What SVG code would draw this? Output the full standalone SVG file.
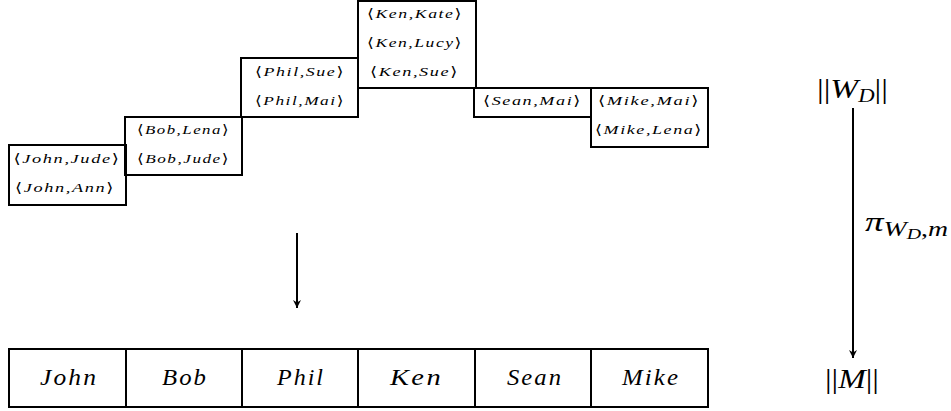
<svg xmlns="http://www.w3.org/2000/svg" width="951" height="411" viewBox="0 0 951 411">
<style>
.box{fill:none;stroke:#000;stroke-width:2}
.t{font-size:13.5px;font-style:italic;text-anchor:middle;fill:#000;letter-spacing:1.2px}
.b{font-style:normal}
.n{font-size:24px;font-style:italic;text-anchor:middle;fill:#000;letter-spacing:2px}
.m{font-size:28px;fill:#000}
.i{font-style:italic}
.conn{stroke:#000;stroke-width:2;fill:none}
</style>
<defs>
<marker id="ah" viewBox="0 0 10 10" refX="10" refY="5" markerWidth="4" markerHeight="4" orient="auto" markerUnits="strokeWidth">
<path d="M0,0 L10,5 L0,10 L3,5 z" fill="#000"/>
</marker>
</defs>
<rect width="951" height="411" fill="#fff"/>
<g font-family="'Liberation Serif','DejaVu Serif',serif">
<g id="box-john">
<rect class="box" x="9" y="145" width="117" height="60"/>
<text class="t" x="67" y="163" textLength="107" lengthAdjust="spacingAndGlyphs"><tspan class="b">⟨</tspan>John,Jude<tspan class="b">⟩</tspan></text>
<text class="t" x="65" y="192" textLength="100" lengthAdjust="spacingAndGlyphs"><tspan class="b">⟨</tspan>John,Ann<tspan class="b">⟩</tspan></text>
</g>
<g id="box-bob">
<rect class="box" x="125" y="117" width="117" height="58"/>
<text class="t" x="183.5" y="134" textLength="93" lengthAdjust="spacingAndGlyphs"><tspan class="b">⟨</tspan>Bob,Lena<tspan class="b">⟩</tspan></text>
<text class="t" x="183.5" y="163" textLength="93" lengthAdjust="spacingAndGlyphs"><tspan class="b">⟨</tspan>Bob,Jude<tspan class="b">⟩</tspan></text>
</g>
<g id="box-phil">
<rect class="box" x="241" y="58" width="117" height="59"/>
<text class="t" x="300" y="76" textLength="90" lengthAdjust="spacingAndGlyphs"><tspan class="b">⟨</tspan>Phil,Sue<tspan class="b">⟩</tspan></text>
<text class="t" x="300" y="105" textLength="90" lengthAdjust="spacingAndGlyphs"><tspan class="b">⟨</tspan>Phil,Mai<tspan class="b">⟩</tspan></text>
</g>
<g id="box-ken">
<rect class="box" x="358" y="1" width="118" height="87"/>
<text class="t" x="415" y="18" textLength="96" lengthAdjust="spacingAndGlyphs"><tspan class="b">⟨</tspan>Ken,Kate<tspan class="b">⟩</tspan></text>
<text class="t" x="415" y="47" textLength="96" lengthAdjust="spacingAndGlyphs"><tspan class="b">⟨</tspan>Ken,Lucy<tspan class="b">⟩</tspan></text>
<text class="t" x="414.5" y="76" textLength="89" lengthAdjust="spacingAndGlyphs"><tspan class="b">⟨</tspan>Ken,Sue<tspan class="b">⟩</tspan></text>
</g>
<g id="box-sean">
<rect class="box" x="474" y="88" width="117" height="29"/>
<text class="t" x="532.5" y="105" textLength="99" lengthAdjust="spacingAndGlyphs"><tspan class="b">⟨</tspan>Sean,Mai<tspan class="b">⟩</tspan></text>
</g>
<g id="box-mike">
<rect class="box" x="591" y="88" width="117" height="59"/>
<text class="t" x="649" y="105" textLength="102" lengthAdjust="spacingAndGlyphs"><tspan class="b">⟨</tspan>Mike,Mai<tspan class="b">⟩</tspan></text>
<text class="t" x="649" y="134" textLength="108" lengthAdjust="spacingAndGlyphs"><tspan class="b">⟨</tspan>Mike,Lena<tspan class="b">⟩</tspan></text>
</g>

<g id="row-m">
<rect class="box" x="9" y="349" width="699" height="58" stroke-width="2.5"/>
<g class="conn" stroke-width="2.5">
<line x1="126" y1="349" x2="126" y2="407"/>
<line x1="242" y1="349" x2="242" y2="407"/>
<line x1="358" y1="349" x2="358" y2="407"/>
<line x1="475" y1="349" x2="475" y2="407"/>
<line x1="591" y1="349" x2="591" y2="407"/>
</g>
<text class="n" x="69" y="385" textLength="58" lengthAdjust="spacingAndGlyphs">John</text>
<text class="n" x="185" y="385" textLength="46" lengthAdjust="spacingAndGlyphs">Bob</text>
<text class="n" x="301" y="385" textLength="48" lengthAdjust="spacingAndGlyphs">Phil</text>
<text class="n" x="416.5" y="385" textLength="53" lengthAdjust="spacingAndGlyphs">Ken</text>
<text class="n" x="535" y="385" textLength="56" lengthAdjust="spacingAndGlyphs">Sean</text>
<text class="n" x="651" y="385" textLength="58" lengthAdjust="spacingAndGlyphs">Mike</text>
</g>

<g id="label-wd">
<text class="m" x="817" y="98" textLength="71" lengthAdjust="spacingAndGlyphs">||<tspan class="i">W</tspan><tspan class="i" font-size="19" dy="4">D</tspan><tspan dy="-4">||</tspan></text>
</g>
<g id="label-m">
<text class="m" x="825" y="388" textLength="54" lengthAdjust="spacingAndGlyphs">||<tspan class="i">M</tspan>||</text>
</g>
<g id="label-pi">
<text class="m" x="865" y="231" textLength="83" lengthAdjust="spacingAndGlyphs"><tspan class="i">π</tspan><tspan class="i" font-size="21" dy="5">W</tspan><tspan class="i" font-size="15" dy="3">D</tspan><tspan font-size="21" dy="-3">,</tspan><tspan class="i" font-size="21">m</tspan></text>
</g>
</g>
<g id="connectors">
<line class="conn" x1="297" y1="233" x2="297" y2="308" marker-end="url(#ah)"/>
<line class="conn" x1="853" y1="108" x2="853" y2="358" marker-end="url(#ah)"/>
</g>
</svg>
